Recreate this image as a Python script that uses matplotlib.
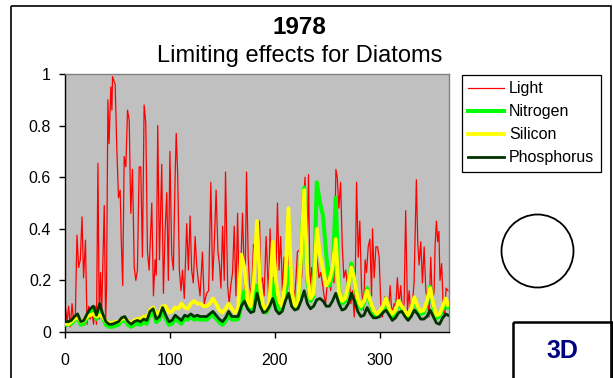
import matplotlib
matplotlib.use("Agg")
import matplotlib.pyplot as plt
from matplotlib.patches import Rectangle, Ellipse

plt.rcParams['font.family'] = ['Liberation Sans', 'DejaVu Sans']

# ---------------- data ----------------
light_days = [0, 2, 3.5, 5, 6.7, 8.2, 9.8, 11.4, 13, 14.6, 16.2, 17.7, 19.5, 21, 22.5, 24,
              25.7, 27.2, 28.8, 30, 31.4, 32.6, 33.9, 35, 37.4, 38.7, 39.6, 40.9, 42, 43.7,
              44.7, 45.3, 46.9, 47.8, 49.4, 51, 52.6, 53.6, 55, 56.4, 58, 59.6, 61.2, 62.7,
              64.3, 66, 67.5, 69, 70.7, 72.2, 73.8, 75.4, 77, 78.6, 80.2, 82.7, 84.3, 85.9,
              87, 88.4, 90, 92.2, 93.8, 95.4, 97, 98.5, 100, 101.7, 103.3, 104.9, 106, 107.4,
              109, 110.6, 112, 113.7, 116, 117.6, 119.2, 120.7, 122.3, 124, 125.5, 127, 128.7,
              131, 132.7, 135, 136.9, 139, 140.7, 142.3, 144, 145.8, 147.3, 148.6, 150.2,
              151.8, 153, 155, 156.5, 158, 159.7, 161.3, 162.9, 164.5, 166, 167.6, 169.2,
              171.5, 173, 174.6, 176, 177.8, 179.7, 181.2, 182.2, 184.4, 185.4, 186.6, 188.2,
              189.8, 191.7, 194, 195.5, 197.1, 198.7, 200.6, 202.5, 204, 205.6, 207.2, 208.8,
              210.4, 212.3, 213.6, 215.2, 216.8, 218.6, 220.2, 221.5, 224, 225.6, 227.2,
              228.8, 230.4, 232.1, 233.5, 235.1, 236.7, 238.3, 239.9, 242.1, 243.7, 245.3,
              246.9, 248.4, 250, 251.6, 253.2, 254.8, 256.4, 258.2, 259.5, 261, 262.7, 264.3,
              265.8, 267.5, 269, 270.9, 272.5, 274, 275.7, 276.6, 277.9, 279.5, 281, 282.6,
              284.5, 286.1, 287.4, 289, 290.6, 292.2, 293.1, 294.7, 296.3, 297.9, 299.4, 301,
              302.6, 304.8, 306.4, 308.3, 309.9, 311.5, 313.7, 315.2, 316.8, 318.4, 320,
              321.6, 323.2, 324.7, 326.4, 328, 329.5, 331.1, 332.7, 334.9, 336.2, 337.5,
              339.1, 340.7, 342.3, 343.9, 345.5, 347, 348.6, 350.2, 351.8, 352.8, 354, 355.2,
              356.4, 357.4, 359, 360.6, 361.9, 363.2, 365]
light = [0.11, 0.04, 0.10, 0.02, 0.11, 0.04, 0.05, 0.375, 0.25, 0.28, 0.446, 0.21, 0.356, 0.03,
         0.10, 0.05, 0.08, 0.03, 0.10, 0.03, 0.654, 0.05, 0.23, 0.08, 0.49, 0.04, 0.17, 0.90,
         0.73, 0.95, 0.86, 0.99, 0.97, 0.96, 0.71, 0.52, 0.55, 0.36, 0.18, 0.68, 0.64, 0.86,
         0.82, 0.46, 0.63, 0.25, 0.20, 0.24, 0.64, 0.64, 0.29, 0.88, 0.81, 0.31, 0.24, 0.50,
         0.14, 0.28, 0.22, 0.80, 0.28, 0.65, 0.15, 0.39, 0.54, 0.20, 0.70, 0.30, 0.24, 0.59,
         0.77, 0.61, 0.24, 0.16, 0.24, 0.13, 0.42, 0.24, 0.45, 0.24, 0.19, 0.37, 0.26, 0.20,
         0.14, 0.31, 0.11, 0.15, 0.16, 0.58, 0.20, 0.34, 0.55, 0.31, 0.26, 0.17, 0.41, 0.20,
         0.62, 0.18, 0.11, 0.18, 0.23, 0.41, 0.14, 0.46, 0.13, 0.26, 0.46, 0.13, 0.62, 0.29,
         0.18, 0.14, 0.34, 0.21, 0.43, 0.19, 0.43, 0.19, 0.21, 0.14, 0.37, 0.14, 0.40, 0.16,
         0.21, 0.14, 0.50, 0.24, 0.37, 0.16, 0.29, 0.14, 0.19, 0.47, 0.24, 0.16, 0.12, 0.21,
         0.31, 0.32, 0.21, 0.50, 0.60, 0.24, 0.61, 0.16, 0.25, 0.19, 0.24, 0.30, 0.21, 0.23,
         0.19, 0.14, 0.11, 0.19, 0.25, 0.16, 0.265, 0.19, 0.63, 0.60, 0.48, 0.58, 0.33, 0.21,
         0.24, 0.19, 0.21, 0.11, 0.16, 0.058, 0.19, 0.58, 0.29, 0.43, 0.17, 0.084, 0.28, 0.23,
         0.33, 0.36, 0.14, 0.40, 0.21, 0.33, 0.33, 0.29, 0.11, 0.058, 0.136, 0.097, 0.084,
         0.18, 0.071, 0.11, 0.097, 0.21, 0.11, 0.18, 0.084, 0.11, 0.47, 0.084, 0.16, 0.071,
         0.11, 0.19, 0.59, 0.35, 0.26, 0.35, 0.19, 0.33, 0.16, 0.12, 0.058, 0.29, 0.11, 0.16,
         0.34, 0.43, 0.35, 0.39, 0.20, 0.265, 0.084, 0.058, 0.17, 0.16]

nut_days = [0, 3, 6, 9, 12, 15, 18, 21, 24, 27, 30, 33, 36, 39, 42, 45, 48, 51, 54, 57, 60,
            63, 66, 69, 72, 75, 78, 81, 84, 87, 90, 93, 96, 99, 102, 105, 108, 111, 114, 117,
            120, 123, 126, 129, 132, 135, 138, 141, 144, 147, 150, 153, 156, 159, 162, 165,
            168, 171, 174, 177, 180, 183, 186, 189, 192, 195, 198, 201, 204, 207, 210, 213,
            216, 219, 222, 225, 228, 231, 234, 237, 240, 243, 246, 249, 252, 255, 258, 261,
            264, 267, 270, 273, 276, 279, 282, 285, 288, 291, 294, 297, 300, 303, 306, 309,
            312, 315, 318, 321, 324, 327, 330, 333, 336, 339, 342, 345, 348, 351, 354, 357,
            360, 363, 365]
nitrogen = [0.028, 0.028, 0.032, 0.045, 0.055, 0.028, 0.032, 0.055, 0.075, 0.085, 0.05, 0.095,
            0.055, 0.028, 0.02, 0.02, 0.024, 0.028, 0.042, 0.048, 0.028, 0.02, 0.028, 0.032,
            0.028, 0.038, 0.032, 0.068, 0.078, 0.038, 0.048, 0.082, 0.052, 0.028, 0.032, 0.052,
            0.042, 0.032, 0.052, 0.048, 0.058, 0.048, 0.052, 0.048, 0.048, 0.048, 0.058, 0.068,
            0.052, 0.038, 0.028, 0.042, 0.068, 0.048, 0.048, 0.05, 0.10, 0.16, 0.10, 0.08, 0.10,
            0.18, 0.15, 0.08, 0.075, 0.10, 0.20, 0.12, 0.08, 0.085, 0.15, 0.25, 0.14, 0.09, 0.10,
            0.30, 0.56, 0.20, 0.12, 0.14, 0.58, 0.50, 0.45, 0.30, 0.18, 0.22, 0.52, 0.17, 0.11,
            0.12, 0.18, 0.265, 0.20, 0.12, 0.09, 0.11, 0.17, 0.11, 0.075, 0.06, 0.07, 0.09, 0.13,
            0.08, 0.06, 0.075, 0.12, 0.09, 0.07, 0.055, 0.08, 0.13, 0.09, 0.07, 0.075, 0.115,
            0.175, 0.10, 0.055, 0.06, 0.09, 0.12, 0.095]
silicon = [0.035, 0.03, 0.04, 0.05, 0.06, 0.04, 0.045, 0.06, 0.065, 0.07, 0.06, 0.065, 0.06,
           0.04, 0.035, 0.035, 0.04, 0.04, 0.05, 0.055, 0.04, 0.035, 0.045, 0.05, 0.05, 0.06,
           0.055, 0.085, 0.095, 0.07, 0.075, 0.10, 0.10, 0.075, 0.08, 0.095, 0.09, 0.11, 0.095,
           0.09, 0.11, 0.12, 0.11, 0.11, 0.10, 0.10, 0.11, 0.13, 0.11, 0.085, 0.075, 0.09, 0.11,
           0.09, 0.075, 0.09, 0.30, 0.25, 0.12, 0.10, 0.20, 0.43, 0.17, 0.10, 0.08, 0.12, 0.35,
           0.20, 0.12, 0.10, 0.20, 0.48, 0.16, 0.10, 0.11, 0.30, 0.55, 0.22, 0.13, 0.15, 0.40,
           0.30, 0.24, 0.18, 0.20, 0.25, 0.36, 0.16, 0.12, 0.13, 0.18, 0.25, 0.20, 0.13, 0.10,
           0.12, 0.16, 0.12, 0.085, 0.07, 0.08, 0.10, 0.13, 0.09, 0.07, 0.085, 0.12, 0.10, 0.08,
           0.065, 0.09, 0.135, 0.10, 0.08, 0.085, 0.12, 0.17, 0.11, 0.065, 0.07, 0.10, 0.13,
           0.105]
phosphorus = [0.04, 0.04, 0.045, 0.06, 0.07, 0.04, 0.045, 0.07, 0.09, 0.10, 0.065, 0.11, 0.07,
              0.04, 0.03, 0.03, 0.035, 0.04, 0.055, 0.06, 0.04, 0.03, 0.04, 0.045, 0.04, 0.05,
              0.045, 0.08, 0.09, 0.05, 0.06, 0.095, 0.065, 0.04, 0.045, 0.065, 0.055, 0.045,
              0.065, 0.06, 0.07, 0.06, 0.065, 0.06, 0.06, 0.06, 0.07, 0.08, 0.065, 0.05, 0.04,
              0.055, 0.08, 0.06, 0.06, 0.06, 0.10, 0.12, 0.09, 0.075, 0.08, 0.15, 0.10, 0.075,
              0.08, 0.10, 0.13, 0.085, 0.07, 0.08, 0.12, 0.15, 0.10, 0.085, 0.09, 0.12, 0.16,
              0.11, 0.09, 0.10, 0.125, 0.13, 0.12, 0.10, 0.10, 0.12, 0.15, 0.11, 0.085, 0.09,
              0.11, 0.15, 0.12, 0.08, 0.06, 0.065, 0.095, 0.07, 0.055, 0.055, 0.06, 0.075, 0.085,
              0.065, 0.045, 0.055, 0.075, 0.08, 0.06, 0.045, 0.06, 0.085, 0.07, 0.05, 0.05, 0.06,
              0.085, 0.06, 0.035, 0.03, 0.055, 0.07, 0.065]

series_names = ["Light", "Nitrogen", "Silicon", "Phosphorus"]
y_ticks = [0, 0.2, 0.4, 0.6, 0.8, 1]
y_tick_labels = ["0", "0.2", "0.4", "0.6", "0.8", "1"]
x_ticks = [0, 100, 200, 300]
title_year = "1978"
title_text = "Limiting effects for Diatoms"
panel_label = "3D"

# ---------------- figure ----------------
W, H = 613, 378
fig = plt.figure(figsize=(W / 100, H / 100), dpi=100)
fig.patch.set_facecolor("white")

def fx(px):
    return px / W

def fy(py):
    return 1 - py / H

ax = fig.add_axes([fx(65), fy(332), fx(449) - fx(65), fy(74) - fy(332)])
ax.set_facecolor("#C0C0C0")

l1, = ax.plot(light_days, light, color="#FF0000", lw=0.9, zorder=2)
l2, = ax.plot(nut_days, nitrogen, color="#00FF00", lw=2.9, zorder=3,
              solid_joinstyle="round")
l3, = ax.plot(nut_days, silicon, color="#FFFF00", lw=2.7, zorder=4,
              solid_joinstyle="round")
l4, = ax.plot(nut_days, phosphorus, color="#003300", lw=2.0, zorder=5,
              solid_joinstyle="round")

ax.set_xlim(0, 366)
ax.set_ylim(0, 1)
ax.set_yticks(y_ticks)
ax.set_yticklabels(y_tick_labels)
ax.set_xticks(x_ticks)
ax.tick_params(axis="both", direction="out", length=4, width=1, labelsize=11.5,
               colors="black")
ax.tick_params(axis="y", pad=6)
ax.tick_params(axis="x", pad=11)
for s in ["left", "bottom"]:
    ax.spines[s].set_color("black")
    ax.spines[s].set_linewidth(1.0)
for s in ["top", "right"]:
    ax.spines[s].set_color("#808080")
    ax.spines[s].set_linewidth(1.0)

leg = ax.legend([l1, l2, l3, l4], series_names, loc="upper left",
                bbox_to_anchor=(fx(462), fy(75)), bbox_transform=fig.transFigure,
                borderaxespad=0, fontsize=11.5, frameon=True, fancybox=False,
                edgecolor="black", framealpha=1, handlelength=2.2, handletextpad=0.35,
                labelspacing=0.5, borderpad=0.4)
leg.get_frame().set_linewidth(0.9)

fig.text(fx(299), fy(27), title_year, ha="center", va="center", fontsize=17.5,
         fontweight="bold")
fig.text(fx(300), fy(56), title_text, ha="center", va="center", fontsize=17)

# overlay in pixel coordinates for decorations
ov = fig.add_axes([0, 0, 1, 1], facecolor="none", zorder=10)
ov.set_xlim(0, W)
ov.set_ylim(H, 0)
ov.axis("off")
ov.add_patch(Rectangle((11, 6), 600, 400, fill=False, edgecolor="black", lw=1.2,
                       clip_on=False))
ov.add_patch(Ellipse((537.5, 251), 72, 73, fill=False, edgecolor="black", lw=1.3))
ov.add_patch(Rectangle((512.5, 321.5), 99, 80, fill=False, edgecolor="black", lw=1.8,
                       clip_on=False))
ov.text(562, 351, panel_label, ha="center", va="center", fontsize=18, fontweight="bold",
        color="#000080")

fig.savefig("out.png", dpi=100, facecolor="white")
